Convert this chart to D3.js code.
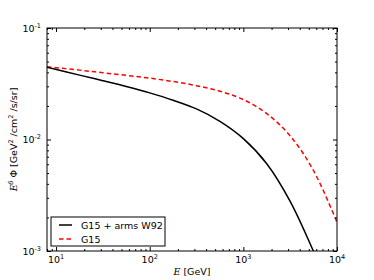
<!DOCTYPE html>
<html>
<head>
<meta charset="utf-8">
<script src="https://cdn.jsdelivr.net/npm/d3@7"></script>
<style>
  body { margin: 0; background: #fff; }
  svg { display: block; }
  text { font-family: "DejaVu Sans", sans-serif; fill: #000; }
</style>
</head>
<body>
<div id="container"></div>
<script>
// values
const armsEnergy = [8, 17.8, 31.6, 56.2, 100, 178, 316, 562, 1000, 1778, 3162, 5623, 6310];
const armsFlux = [0.0444, 0.0378, 0.0337, 0.0299, 0.0262, 0.0225, 0.0188, 0.01455, 0.01019, 0.00607, 0.00279, 0.00099, 0.00079];
const g15Energy = [8, 17.8, 31.6, 56.2, 100, 178, 316, 562, 1000, 1778, 3162, 5623, 10000];
const g15Flux = [0.0450, 0.0419, 0.0397, 0.0376, 0.0355, 0.0331, 0.0304, 0.0271, 0.0228, 0.01708, 0.01078, 0.00525, 0.00181];
const seriesNames = ["G15 + arms W92", "G15"];
const xMajorTicks = [10, 100, 1000, 10000];
const xTickExp = ["1", "2", "3", "4"];
const yMajorTicks = [0.001, 0.01, 0.1];
const yTickExp = ["-3", "-2", "-1"];

const margin = { top: 28, right: 37, bottom: 29, left: 47 },
      width = 374 - margin.left - margin.right,
      height = 280 - margin.top - margin.bottom;

const svg = d3.select("#container")
  .append("svg")
    .attr("width", 374)
    .attr("height", 280)
  .append("g")
    .attr("transform", "translate(" + margin.left + "," + margin.top + ")");

const x = d3.scaleLog().domain([8, 10000]).range([0, width]);
const y = d3.scaleLog().domain([0.001, 0.1]).range([height, 0]);

const xMinor = x.ticks().filter(t => !xMajorTicks.includes(t));
const yMinor = y.ticks().filter(t => !yMajorTicks.some(m => Math.abs(m - t) / m < 1e-6));

// clip for curves
svg.append("clipPath").attr("id", "clip")
  .append("rect").attr("width", width).attr("height", height);

// curves
const line = d3.line()
  .x(d => x(d[0]))
  .y(d => y(d[1]))
  .curve(d3.curveCatmullRom.alpha(0.5));

const plot = svg.append("g").attr("clip-path", "url(#clip)");
plot.append("path")
  .datum(g15Energy.map((e, i) => [e, g15Flux[i]]))
  .attr("fill", "none")
  .attr("stroke", "#ff0000")
  .attr("stroke-width", 1.5)
  .attr("stroke-dasharray", "4.5,3")
  .attr("d", line);
plot.append("path")
  .datum(armsEnergy.map((e, i) => [e, armsFlux[i]]))
  .attr("fill", "none")
  .attr("stroke", "#000")
  .attr("stroke-width", 1.5)
  .attr("d", line);

// ticks on all four sides, pointing inward
function addAxis(axis, transform, values, size) {
  const g = svg.append("g")
    .attr("transform", transform)
    .call(axis.tickValues(values).tickSizeInner(-size).tickSizeOuter(0).tickFormat(""));
  g.select(".domain").remove();
  g.selectAll(".tick line").attr("stroke", "#000").attr("stroke-width", 1);
}
addAxis(d3.axisBottom(x), "translate(0," + height + ")", xMajorTicks, 4);
addAxis(d3.axisBottom(x), "translate(0," + height + ")", xMinor, 2);
addAxis(d3.axisTop(x), "translate(0,0)", xMajorTicks, 4);
addAxis(d3.axisTop(x), "translate(0,0)", xMinor, 2);
addAxis(d3.axisLeft(y), "translate(0,0)", yMajorTicks, 4);
addAxis(d3.axisLeft(y), "translate(0,0)", yMinor, 2);
addAxis(d3.axisRight(y), "translate(" + width + ",0)", yMajorTicks, 4);
addAxis(d3.axisRight(y), "translate(" + width + ",0)", yMinor, 2);

// frame
svg.append("rect")
  .attr("width", width).attr("height", height)
  .attr("fill", "none").attr("stroke", "#000").attr("stroke-width", 1);

// tick labels
xMajorTicks.forEach((t, i) => {
  const tx = svg.append("text")
    .attr("x", x(t)).attr("y", height + 12)
    .attr("text-anchor", "middle")
    .attr("font-size", 9.5);
  tx.append("tspan").text("10");
  tx.append("tspan").attr("dy", -4).attr("font-size", 6.5).text(xTickExp[i]);
});
yMajorTicks.forEach((t, i) => {
  const ty = svg.append("text")
    .attr("x", -6).attr("y", y(t) + 3.5)
    .attr("text-anchor", "end")
    .attr("font-size", 9.5);
  ty.append("tspan").text("10");
  ty.append("tspan").attr("dy", -4).attr("font-size", 6.5).text(yTickExp[i]);
});

// axis titles
const xl = svg.append("text")
  .attr("x", width / 2).attr("y", height + 24)
  .attr("text-anchor", "middle")
  .attr("font-size", 9.5);
xl.append("tspan").attr("font-family", "DejaVu Serif").attr("font-style", "italic").text("E");
xl.append("tspan").text(" [GeV]");

const yl = svg.append("text")
  .attr("transform", "translate(" + (-margin.left + 17) + "," + (height / 2) + ") rotate(-90)")
  .attr("text-anchor", "middle")
  .attr("font-size", 9.5);
yl.append("tspan").attr("font-family", "DejaVu Serif").attr("font-style", "italic").text("E");
yl.append("tspan").attr("dy", -4).attr("font-size", 6.5).attr("font-family", "DejaVu Serif").attr("font-style", "italic").text("δ");
yl.append("tspan").attr("dy", 4).text(" Φ [GeV");
yl.append("tspan").attr("dy", -4).attr("font-size", 6.5).text("2");
yl.append("tspan").attr("dy", 4).text(" /cm");
yl.append("tspan").attr("dy", -4).attr("font-size", 6.5).text("2");
yl.append("tspan").attr("dy", 4).text(" /s/sr]");

// legend
const legend = svg.append("g").attr("transform", "translate(4," + (height - 34) + ")");
legend.append("rect")
  .attr("width", 114).attr("height", 29)
  .attr("fill", "#fff").attr("stroke", "#000").attr("stroke-width", 1);
const legendStyles = [
  { stroke: "#000", dash: null },
  { stroke: "#ff0000", dash: "4.5,3" }
];
seriesNames.forEach((name, i) => {
  const row = legend.append("g").attr("transform", "translate(0," + (8 + i * 14) + ")");
  row.append("line")
    .attr("x1", 8).attr("x2", 21)
    .attr("stroke", legendStyles[i].stroke)
    .attr("stroke-width", 1.5)
    .attr("stroke-dasharray", legendStyles[i].dash);
  row.append("text")
    .attr("x", 30).attr("y", 3.5)
    .attr("font-size", 9.5)
    .text(name);
});
</script>
</body>
</html>
